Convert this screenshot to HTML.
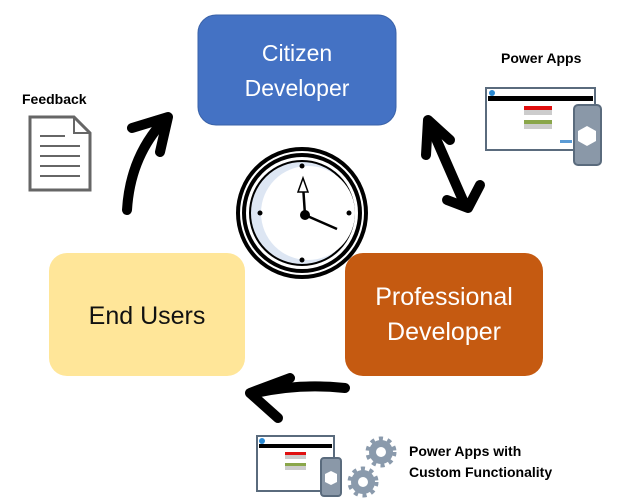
<!DOCTYPE html>
<html><head><style>
html,body{margin:0;padding:0;background:#fff;}
svg{display:block;}
text{font-family:"Liberation Sans",sans-serif;}
</style></head><body>
<svg width="625" height="504" viewBox="0 0 625 504" xmlns="http://www.w3.org/2000/svg">
<rect x="0" y="0" width="625" height="504" fill="#fff"/>
<!-- boxes -->
<rect x="198" y="15" width="198" height="110" rx="18" fill="#4472C4" stroke="#3a62a8" stroke-width="1"/>
<text x="297" y="61" font-size="23" fill="#fff" text-anchor="middle">Citizen</text>
<text x="297" y="96" font-size="23" fill="#fff" text-anchor="middle">Developer</text>
<rect x="49" y="253" width="196" height="123" rx="18" fill="#FFE699"/>
<text x="147" y="324" font-size="25" fill="#111" text-anchor="middle">End Users</text>
<rect x="345" y="253" width="198" height="123" rx="18" fill="#C55A11"/>
<text x="444" y="305" font-size="25" fill="#fff" text-anchor="middle">Professional</text>
<text x="444" y="340" font-size="25" fill="#fff" text-anchor="middle">Developer</text>
<!-- arrows -->
<g fill="none" stroke="#000" stroke-width="10" stroke-linecap="round" stroke-linejoin="round">
<path d="M127 210 Q130 160 160 125"/>
<path d="M132 128 L168 117 L160 152"/>
<path d="M430 125 L465 205"/>
<path d="M426 155 L428 120 L450 140"/>
<path d="M447 200 L468 208 L480 185"/>
<path d="M345 388 Q300 383 255 393"/>
<path d="M290 378 L250 393 L278 418"/>
</g>
<!-- clock -->
<circle cx="302" cy="213" r="64" fill="#fff" stroke="#000" stroke-width="4"/>
<circle cx="302" cy="213" r="58" fill="none" stroke="#000" stroke-width="4"/>
<circle cx="302" cy="213" r="52" fill="#dde6f3" stroke="#000" stroke-width="2"/>
<circle cx="308" cy="213" r="47" fill="#fff"/>
<g fill="#000"><circle cx="302" cy="166" r="2.5"/><circle cx="302" cy="260" r="2.5"/><circle cx="260" cy="213" r="2.5"/><circle cx="349" cy="213" r="2.5"/><circle cx="305" cy="215" r="5"/></g>
<path d="M305 215 L303 185 M305 215 L337 229" stroke="#000" stroke-width="2.5"/>
<path d="M298 192 L303 178 L308 192 Z" fill="#fff" stroke="#000" stroke-width="1.5"/>
<!-- feedback doc -->
<text x="22" y="104" font-size="14" font-weight="bold" fill="#000">Feedback</text>
<path d="M30 117 L74 117 L90 133 L90 190 L30 190 Z" fill="#fff" stroke="#666" stroke-width="3"/>
<path d="M74 117 L74 133 L90 133" fill="none" stroke="#666" stroke-width="2"/>
<g stroke="#666" stroke-width="2"><line x1="40" y1="136" x2="65" y2="136"/><line x1="40" y1="146" x2="80" y2="146"/><line x1="40" y1="156" x2="80" y2="156"/><line x1="40" y1="166" x2="80" y2="166"/><line x1="40" y1="176" x2="80" y2="176"/></g>
<!-- power apps top -->
<text x="501" y="63" font-size="14" font-weight="bold" fill="#000">Power Apps</text>
<g transform="translate(486,88)">
<rect x="0" y="0" width="109" height="62" fill="#fff" stroke="#5a6b7d" stroke-width="2"/>
<rect x="2" y="8" width="105" height="5" fill="#000"/>
<circle cx="6" cy="5" r="3" fill="#2a8ad4"/>
<rect x="38" y="18" width="28" height="4" fill="#e01010"/><rect x="38" y="22" width="28" height="5" fill="#ccc"/>
<rect x="38" y="32" width="28" height="4" fill="#8aa64a"/><rect x="38" y="36" width="28" height="5" fill="#ccc"/>
<rect x="74" y="52" width="12" height="3" fill="#5b9bd5"/>
<rect x="88" y="17" width="27" height="60" rx="4" fill="#8a98a8" stroke="#5a6b7d" stroke-width="2"/>
<path d="M101 38 L110 43 L110 53 L101 58 L92 53 L92 43 Z" fill="#fff"/>
</g>
<!-- bottom power apps -->
<g transform="translate(257,436)">
<rect x="0" y="0" width="77" height="55" fill="#fff" stroke="#5a6b7d" stroke-width="2"/>
<rect x="2" y="8" width="73" height="4" fill="#000"/>
<circle cx="5" cy="5" r="3" fill="#2a8ad4"/>
<rect x="28" y="16" width="21" height="3" fill="#e01010"/><rect x="28" y="19" width="21" height="4" fill="#ccc"/>
<rect x="28" y="27" width="21" height="3" fill="#8aa64a"/><rect x="28" y="30" width="21" height="4" fill="#ccc"/>
<rect x="64" y="22" width="20" height="38" rx="3" fill="#8a98a8" stroke="#5a6b7d" stroke-width="2"/>
<path d="M74 35 L80 38 L80 46 L74 49 L68 46 L68 38 Z" fill="#fff"/>
</g>
<g fill="#8a9aac">
<circle cx="381" cy="452" r="12"/><circle cx="363" cy="482" r="12"/>
<g stroke="#8a9aac" stroke-width="5" stroke-dasharray="4 4.4"><circle cx="381" cy="452" r="13" fill="none"/><circle cx="363" cy="482" r="13" fill="none"/></g>
<circle cx="381" cy="452" r="5" fill="#fff"/><circle cx="363" cy="482" r="5" fill="#fff"/>
</g>
<text x="409" y="456" font-size="14" font-weight="bold" fill="#000">Power Apps with</text>
<text x="409" y="477" font-size="14" font-weight="bold" fill="#000">Custom Functionality</text>
</svg>
</body></html>
